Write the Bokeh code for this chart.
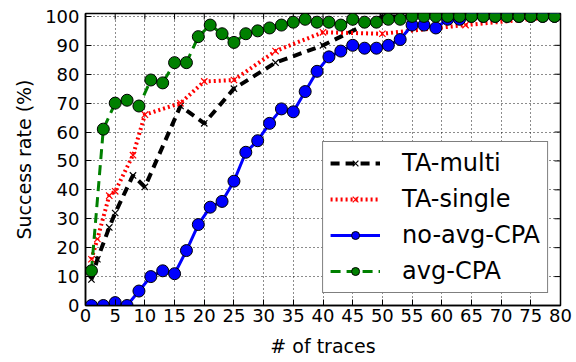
import math
from bokeh.plotting import figure
from bokeh.models import FixedTicker, Legend, LegendItem, Range1d
from bokeh.embed import file_html
from bokeh.resources import INLINE

# ---- data ----
cpa_traces = [1, 3, 5, 7, 9, 11, 13, 15, 17, 19, 21, 23, 25, 27, 29, 31, 33, 35, 37, 39,
              41, 43, 45, 47, 49, 51, 53, 55, 57, 59, 61, 63, 65, 67, 69, 71, 73, 75, 77, 79]
no_avg_cpa = [0, 0, 1, 0, 5, 10, 12, 11, 19, 28, 34, 36, 43, 53, 57, 63, 68, 67, 74, 81,
              86, 88, 90, 89, 89, 90, 92, 97, 97, 96, 99, 99, 100, 100, 100, 100, 100, 100, 100, 100]
avg_cpa = [12, 61, 70, 71, 69, 78, 77, 84, 84, 93, 97, 94, 91, 94, 95, 96, 97, 98, 99, 98,
           98, 97, 99, 98, 98, 99, 99, 100, 100, 100, 100, 100, 100, 100, 100, 100, 100, 100, 100, 100]
ta_traces = [1, 2, 4, 5, 8, 10, 16, 20, 25, 32, 40, 50, 64, 80]
ta_multi = [9, 16, 27, 32, 45, 41, 69, 63, 75, 84, 90, 100, 100, 100]
ta_single = [16, 23, 38, 39.5, 52, 66, 70, 77.5, 78, 88, 94.5, 94, 97, 100]

x_ticks = [0, 5, 10, 15, 20, 25, 30, 35, 40, 45, 50, 55, 60, 65, 70, 75, 80]
y_ticks = [0, 10, 20, 30, 40, 50, 60, 70, 80, 90, 100]
x_min, x_max = 0, 80
y_min, y_max = 0, 101

FONT = "DejaVu Sans"

p = figure(width=576, height=362, x_range=Range1d(x_min, x_max), y_range=Range1d(y_min, y_max),
           output_backend="svg", toolbar_location=None,
           min_border_left=85, min_border_right=16, min_border_top=13, min_border_bottom=57)

p.background_fill_color = "white"
p.border_fill_color = "white"
p.outline_line_color = "black"
p.outline_line_width = 1.5

xt = FixedTicker(ticks=x_ticks)
yt = FixedTicker(ticks=y_ticks)
p.xaxis.ticker = xt
p.yaxis.ticker = yt
p.xgrid.ticker = xt
p.ygrid.ticker = yt
for g in (p.xgrid, p.ygrid):
    g.grid_line_color = "black"
    g.grid_line_dash = "1 3"
    g.grid_line_width = 1
    g.grid_line_alpha = 0.9

for ax in (p.xaxis[0], p.yaxis[0]):
    ax.axis_line_color = "black"
    ax.axis_line_width = 1.5
    ax.major_tick_in = 6
    ax.major_tick_out = 0
    ax.major_tick_line_color = "black"
    ax.minor_tick_line_color = None
    ax.major_label_text_font = FONT
    ax.major_label_text_font_size = "18px"
    ax.major_label_text_color = "black"
    ax.axis_label_text_font = FONT
    ax.axis_label_text_font_style = "normal"
    ax.axis_label_text_font_size = "19px"
    ax.axis_label_text_color = "black"

p.xaxis.axis_label = "# of traces"
p.yaxis.axis_label = "Success rate (%)"
p.xaxis.major_label_standoff = 3
p.xaxis.axis_label_standoff = 10
p.yaxis.major_label_standoff = 6
p.yaxis.axis_label_standoff = 7

# mirrored inward ticks on the right and top spines
p.ray(x=[x_max] * len(y_ticks), y=y_ticks, length=6, length_units="screen",
      angle=math.pi, line_color="black", line_width=1)
p.ray(x=x_ticks, y=[y_max] * len(x_ticks), length=6, length_units="screen",
      angle=-math.pi / 2, line_color="black", line_width=1)

# ---- series ----
l1 = p.line(ta_traces, ta_multi, line_color="black", line_width=4, line_dash="9 6")
s1 = p.scatter(ta_traces, ta_multi, marker="x", size=9, line_color="black", line_width=1.2)

l2 = p.line(ta_traces, ta_single, line_color="#ff0000", line_width=4, line_dash="2 3")
s2 = p.scatter(ta_traces, ta_single, marker="x", size=9, line_color="#ff0000", line_width=1.2)

l3 = p.line(cpa_traces, no_avg_cpa, line_color="#0000ff", line_width=3)
s3 = p.scatter(cpa_traces, no_avg_cpa, marker="circle", size=12, fill_color="#0000ff",
               line_color="black", line_width=1)

l4 = p.line(cpa_traces, avg_cpa, line_color="#008000", line_width=3, line_dash="10 6")
s4 = p.scatter(cpa_traces, avg_cpa, marker="circle", size=12, fill_color="#008000",
               line_color="black", line_width=1)

legend = Legend(items=[
    LegendItem(label="TA-multi", renderers=[l1, s1]),
    LegendItem(label="TA-single", renderers=[l2, s2]),
    LegendItem(label="no-avg-CPA", renderers=[l3, s3]),
    LegendItem(label="avg-CPA", renderers=[l4, s4]),
], location="bottom_right")
legend.label_text_font = FONT
legend.label_text_font_size = "24px"
legend.label_text_color = "black"
legend.glyph_width = 50
legend.glyph_height = 20
legend.label_height = 20
legend.label_standoff = 22
legend.spacing = 8
legend.padding = 7
legend.margin = 12
legend.border_line_color = "black"
legend.border_line_width = 1.5
legend.background_fill_color = "white"
legend.background_fill_alpha = 1
p.add_layout(legend)

open("out.html", "w").write(file_html(p, INLINE))
